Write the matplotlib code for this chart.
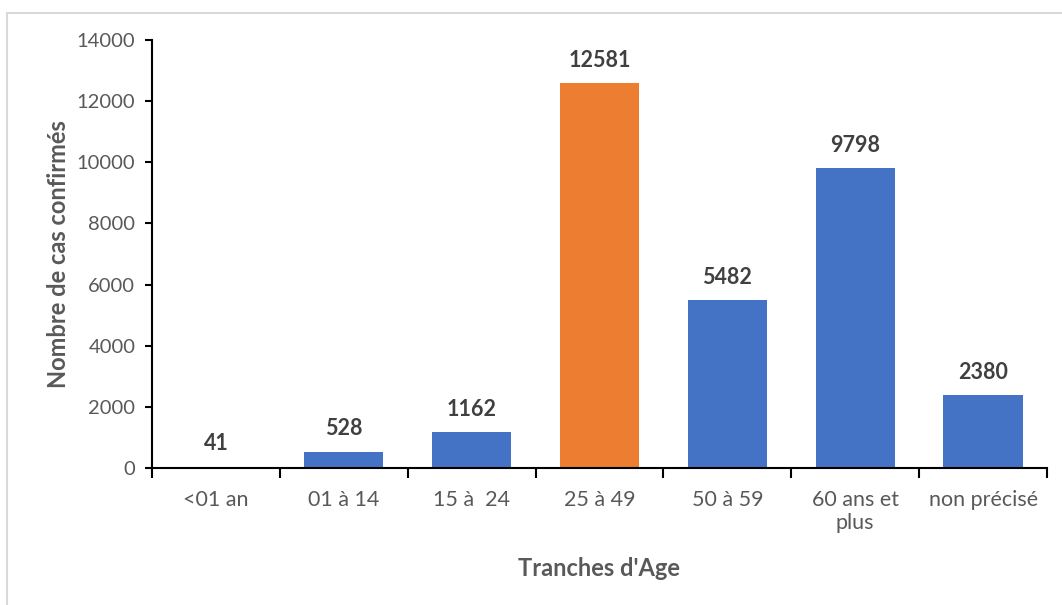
import matplotlib.pyplot as plt
import numpy as np
from matplotlib.patches import Rectangle

# Daten
categories = ['<01 an', '01 à 14', '15 à  24', '25 à 49', '50 à 59', '60 ans et\nplus', 'non précisé']
values = [41, 528, 1162, 12581, 5482, 9798, 2380]
highlight = '25 à 49'

blue = '#4472C4'
orange = '#ED7D31'
grey = '#595959'

plt.rcParams['font.family'] = ['Lato', 'DejaVu Sans']

fig = plt.figure(figsize=(10.62, 6.05), dpi=100)
ax = fig.add_axes([152 / 1062, 1 - 468 / 605, (1047 - 152) / 1062, (468 - 40) / 605])

# Rahmen um die Grafik
fig.patches.append(Rectangle((7 / 1062, -0.05), 1.1, 1 - 13 / 605 + 0.05,
                             transform=fig.transFigure, fill=False,
                             edgecolor='#D9D9D9', linewidth=1.5))

x = np.arange(len(categories))
colors = [orange if c == highlight else blue for c in categories]
bars = ax.bar(x, values, width=0.62, color=colors)

for b, v in zip(bars, values):
    ax.annotate(str(v), (b.get_x() + b.get_width() / 2, v), xytext=(0, 9),
                textcoords='offset points', ha='center', va='bottom',
                fontsize=15.5, fontweight='bold', color='#404040')

ax.set_xlim(-0.5, len(categories) - 0.5)
ax.set_ylim(0, 14000)
ax.set_yticks(range(0, 14001, 2000))

# Achsen: Striche an Kategoriegrenzen, Beschriftung in der Mitte
ax.set_xticks(np.arange(-0.5, len(categories), 1))
ax.set_xticklabels([])
ax.set_xticks(x, minor=True)
ax.set_xticklabels(categories, minor=True)
ax.tick_params(axis='x', which='major', direction='out', length=7, width=1.5, color='black')
ax.tick_params(axis='x', which='minor', length=0, pad=16, labelsize=15.5, labelcolor=grey)
ax.tick_params(axis='y', direction='out', length=5, width=1.5, color='black',
               labelsize=14.5, labelcolor=grey, pad=7)

for s in ['top', 'right']:
    ax.spines[s].set_visible(False)
for s in ['left', 'bottom']:
    ax.spines[s].set_linewidth(1.5)
    ax.spines[s].set_color('black')

ax.set_ylabel('Nombre de cas confirmés', fontsize=17, fontweight='bold', color=grey, labelpad=5)
ax.set_xlabel("Tranches d'Age", fontsize=17, fontweight='bold', color=grey, labelpad=17)

fig.savefig('out.png', dpi=100)
